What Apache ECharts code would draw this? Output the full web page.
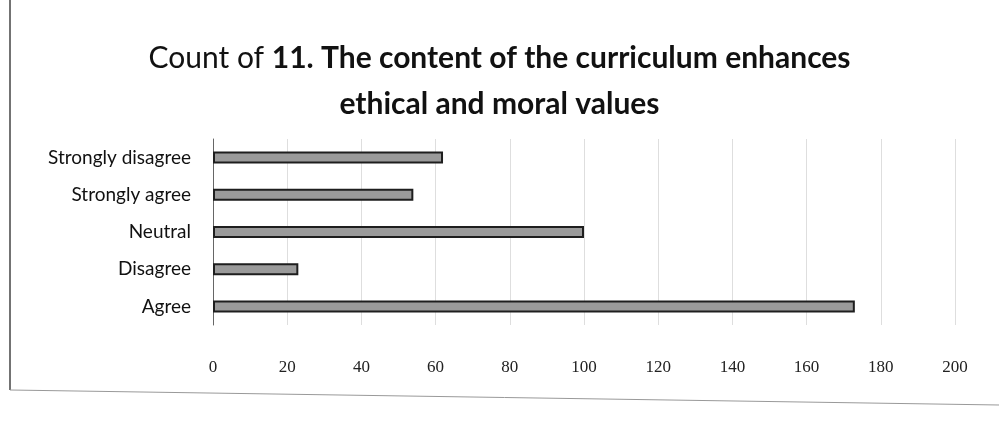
<!DOCTYPE html>
<html>
<head>
<meta charset="utf-8">
<script src="https://cdn.jsdelivr.net/npm/echarts@6/dist/echarts.min.js"></script>
<style>
  html, body { margin: 0; padding: 0; background: #ffffff; }
  #chart { width: 999px; height: 421px; }
</style>
</head>
<body>
<div id="chart"></div>
<script>
// categories bottom-to-top, as on the category axis
var categories = ['Agree', 'Disagree', 'Neutral', 'Strongly agree', 'Strongly disagree'];
var counts = [173, 23, 100, 54, 62];
var tickMin = 0, tickMax = 200, tickStep = 20;

var chart = echarts.init(document.getElementById('chart'));

chart.setOption({
    backgroundColor: '#ffffff',
    animation: false,
    title: {
        text: '{r|Count of }{b|11. The content of the curriculum enhances}\n{b|ethical and moral values}',
        left: 'center',
        top: 30,
        textStyle: {
            rich: {
                r: { fontFamily: 'Lato', fontSize: 30, fontWeight: 'normal', color: '#111', lineHeight: 46 },
                b: { fontFamily: 'Lato', fontSize: 30, fontWeight: 'bold', color: '#111', lineHeight: 46 }
            }
        }
    },
    grid: { left: 213, right: 44, top: 139, height: 186, containLabel: false },
    xAxis: {
        type: 'value',
        min: tickMin,
        max: tickMax,
        interval: tickStep,
        axisLine: { show: false },
        axisTick: { show: false },
        axisLabel: {
            margin: 34,
            fontFamily: 'Liberation Serif',
            fontSize: 17,
            color: '#222'
        },
        splitLine: { lineStyle: { color: '#dedede', width: 1 } }
    },
    yAxis: {
        type: 'category',
        data: categories,
        axisLine: { show: true, lineStyle: { color: '#666', width: 1 } },
        axisTick: { show: false },
        axisLabel: {
            margin: 22,
            fontFamily: 'Lato',
            fontSize: 19,
            color: '#111'
        }
    },
    series: [{
        type: 'bar',
        data: counts,
        barWidth: 12,
        itemStyle: { color: '#9a9a9a', borderColor: '#1e1e1e', borderWidth: 2 }
    }],
    graphic: [
        { type: 'line', shape: { x1: 10, y1: 0, x2: 10, y2: 390 }, style: { stroke: '#444', lineWidth: 1.5 } },
        { type: 'line', shape: { x1: 10, y1: 390, x2: 999, y2: 405 }, style: { stroke: '#999', lineWidth: 1 } }
    ]
});
</script>
</body>
</html>
